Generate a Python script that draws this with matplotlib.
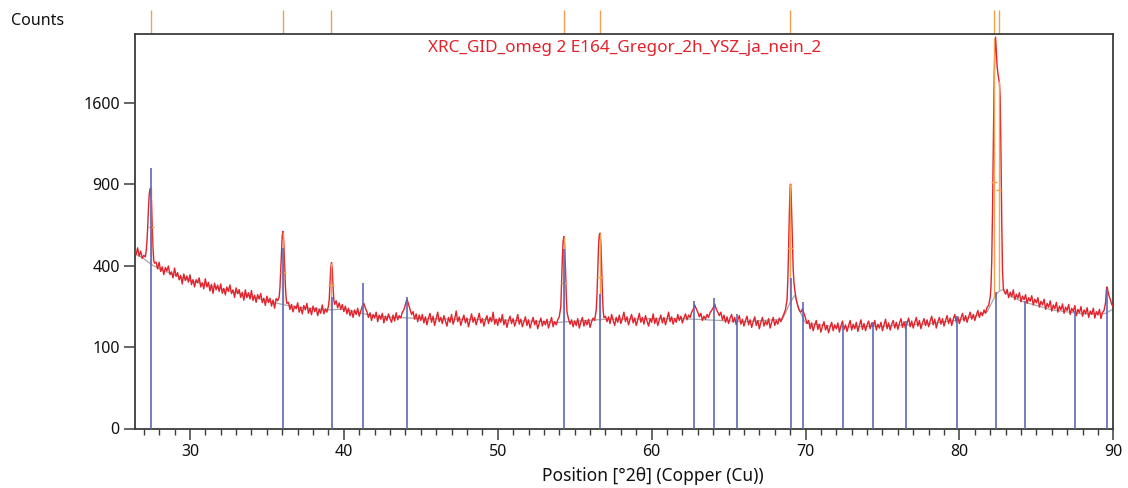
import numpy as np
import matplotlib
matplotlib.use("Agg")
import matplotlib.pyplot as plt
from matplotlib.ticker import FixedLocator, MultipleLocator
import matplotlib.transforms as mtransforms

plt.rcParams['font.family'] = ['Noto Sans', 'DejaVu Sans']

# ---------------- data ----------------
# observed scan: (2theta, counts)
obs_points = [
    (26.43, 478), (26.5, 455), (26.6, 492), (26.7, 448), (26.8, 474), (26.9, 436), (27.0, 452), (27.1, 444),
    (27.15, 470), (27.2, 520), (27.25, 600), (27.3, 720), (27.35, 820), (27.4, 865), (27.45, 870), (27.5, 780),
    (27.55, 620), (27.6, 490), (27.65, 425), (27.7, 412),
    (27.8, 417), (27.9, 384), (28.0, 417), (28.1, 372), (28.2, 394), (28.3, 357), (28.4, 391), (28.5, 374),
    (28.6, 398), (28.7, 357), (28.8, 370), (28.9, 342), (29.0, 388), (29.1, 349), (29.2, 366), (29.3, 333),
    (29.4, 353), (29.5, 315), (29.6, 360), (29.7, 330), (29.8, 351), (29.9, 323), (30.0, 356), (30.1, 312),
    (30.2, 334), (30.3, 302), (30.4, 334), (30.5, 320), (30.6, 342), (30.7, 302), (30.8, 320), (30.9, 294),
    (31.0, 338), (31.1, 302), (31.2, 322), (31.3, 285), (31.4, 313), (31.5, 275), (31.6, 318), (31.7, 290),
    (31.8, 310), (31.9, 283), (32.0, 315), (32.1, 276), (32.2, 296), (32.3, 269), (32.4, 302), (32.5, 284),
    (32.6, 311), (32.7, 274), (32.8, 290), (32.9, 259), (33.0, 298), (33.1, 274), (33.2, 291), (33.3, 259),
    (33.4, 279), (33.5, 248), (33.6, 290), (33.7, 258), (33.8, 278), (33.9, 253), (34.0, 287), (34.1, 247),
    (34.2, 268), (34.3, 240), (34.4, 270), (34.5, 253), (34.6, 275), (34.7, 239), (34.8, 256), (34.9, 228),
    (35.0, 264), (35.1, 239), (35.2, 256), (35.3, 226), (35.4, 249), (35.5, 218), (35.6, 254),
    (35.7, 246), (35.8, 262), (35.85, 300), (35.9, 380), (35.95, 480), (36.0, 565), (36.05, 585), (36.1, 520),
    (36.15, 410), (36.2, 310), (36.25, 256), (36.3, 236),
    (36.4, 240), (36.5, 214), (36.6, 232), (36.7, 205), (36.8, 226), (36.9, 216), (37.0, 238), (37.1, 204),
    (37.2, 222), (37.3, 198), (37.4, 228), (37.5, 212), (37.6, 236), (37.7, 200), (37.8, 218), (37.9, 195),
    (38.0, 226), (38.1, 206), (38.2, 220), (38.3, 192), (38.4, 214), (38.5, 200), (38.6, 230), (38.7, 198),
    (38.8, 216), (38.9, 204), (39.0, 226),
    (39.05, 250), (39.1, 320), (39.15, 390), (39.2, 415), (39.25, 380), (39.3, 300), (39.35, 250),
    (39.4, 232), (39.5, 246), (39.6, 220), (39.7, 238), (39.8, 214), (39.9, 232), (40.0, 206), (40.1, 226),
    (40.2, 198), (40.3, 218), (40.4, 192), (40.5, 210), (40.6, 186), (40.7, 212), (40.8, 196), (40.9, 218),
    (41.0, 190), (41.1, 208), (41.2, 226), (41.3, 236), (41.4, 218), (41.5, 206), (41.6, 186), (41.7, 202),
    (41.8, 176), (41.9, 196), (42.0, 184), (42.1, 204), (42.2, 172), (42.3, 194), (42.4, 180), (42.5, 200),
    (42.6, 168), (42.7, 190), (42.8, 176), (42.9, 198), (43.0, 182), (43.1, 170), (43.2, 194), (43.3, 174),
    (43.4, 202), (43.5, 178), (43.6, 192), (43.7, 184), (43.8, 204), (43.9, 212), (44.0, 232), (44.1, 252),
    (44.2, 234), (44.3, 214), (44.4, 196), (44.5, 206), (44.6, 180), (44.7, 198), (44.8, 172), (44.9, 194),
    (45.0, 176), (45.1, 196), (45.2, 168), (45.3, 188), (45.4, 162), (45.5, 184), (45.6, 200), (45.7, 170),
    (45.8, 190), (45.9, 160), (46.0, 182), (46.1, 204), (46.2, 172), (46.3, 186), (46.4, 166), (46.5, 192),
    (46.6, 174), (46.7, 158), (46.8, 186), (46.9, 170), (47.0, 196), (47.1, 164), (47.2, 180), (47.3, 208),
    (47.4, 172), (47.5, 188), (47.6, 160), (47.7, 178), (47.8, 194), (47.9, 168), (48.0, 184), (48.1, 156),
    (48.2, 176), (48.3, 198), (48.4, 170), (48.5, 186), (48.6, 162), (48.7, 180), (48.8, 200), (48.9, 168),
    (49.0, 182), (49.1, 158), (49.2, 178), (49.3, 192), (49.4, 166), (49.5, 186), (49.6, 172), (49.7, 204),
    (49.8, 164), (49.9, 180), (50.0, 160), (50.1, 184), (50.2, 170), (50.3, 196), (50.4, 162), (50.5, 178),
    (50.6, 154), (50.7, 176), (50.8, 190), (50.9, 166), (51.0, 182), (51.1, 158), (51.2, 174), (51.3, 196),
    (51.4, 164), (51.5, 180), (51.6, 156), (51.7, 172), (51.8, 188), (51.9, 160), (52.0, 178), (52.1, 152),
    (52.2, 170), (52.3, 186), (52.4, 162), (52.5, 176), (52.6, 150), (52.7, 168), (52.8, 184), (52.9, 158),
    (53.0, 174), (53.1, 162), (53.2, 180), (53.3, 152), (53.4, 170), (53.5, 186), (53.6, 156), (53.7, 172),
    (53.8, 162), (53.9, 178), (54.0, 188),
    (54.1, 225), (54.15, 320), (54.2, 440), (54.25, 530), (54.3, 555), (54.35, 505), (54.4, 395), (54.45, 275),
    (54.5, 205), (54.6, 180),
    (54.7, 164), (54.8, 178), (54.9, 156), (55.0, 174), (55.1, 160), (55.2, 182), (55.3, 152), (55.4, 170),
    (55.5, 186), (55.6, 158), (55.7, 176), (55.8, 162), (55.9, 180), (56.0, 154), (56.1, 172), (56.2, 184),
    (56.3, 176), (56.4, 212),
    (56.45, 270), (56.5, 380), (56.55, 500), (56.6, 565), (56.65, 575), (56.7, 520), (56.75, 400), (56.8, 280),
    (56.85, 210), (56.9, 185), (57.0, 190),
    (57.1, 172), (57.2, 188), (57.3, 166), (57.4, 196), (57.5, 176), (57.6, 160), (57.7, 186), (57.8, 170),
    (57.9, 194), (58.0, 166), (58.1, 182), (58.2, 204), (58.3, 172), (58.4, 188), (58.5, 162), (58.6, 180),
    (58.7, 196), (58.8, 168), (58.9, 184), (59.0, 160), (59.1, 178), (59.2, 200), (59.3, 170), (59.4, 186),
    (59.5, 164), (59.6, 192), (59.7, 174), (59.8, 158), (59.9, 182), (60.0, 170), (60.1, 198), (60.2, 166),
    (60.3, 184), (60.4, 160), (60.5, 178), (60.6, 194), (60.7, 168), (60.8, 186), (60.9, 162), (61.0, 180),
    (61.1, 204), (61.2, 172), (61.3, 188), (61.4, 164), (61.5, 182), (61.6, 170), (61.7, 196), (61.8, 176),
    (61.9, 190), (62.0, 168), (62.1, 184), (62.2, 198), (62.3, 178), (62.4, 194), (62.5, 186), (62.6, 204),
    (62.7, 214), (62.8, 230), (62.9, 216), (63.0, 204), (63.1, 188), (63.2, 200), (63.3, 176), (63.4, 190),
    (63.5, 180), (63.6, 196), (63.7, 186), (63.8, 202), (63.9, 210), (64.0, 220), (64.1, 234), (64.2, 214),
    (64.3, 204), (64.4, 192), (64.5, 204), (64.6, 178), (64.7, 194), (64.8, 170), (64.9, 188), (65.0, 166),
    (65.1, 184), (65.2, 196), (65.3, 170), (65.4, 186), (65.5, 162), (65.6, 178), (65.7, 192), (65.8, 164),
    (65.9, 180), (66.0, 158), (66.1, 176), (66.2, 190), (66.3, 162), (66.4, 178), (66.5, 154), (66.6, 172),
    (66.7, 188), (66.8, 160), (66.9, 176), (67.0, 150), (67.1, 170), (67.2, 186), (67.3, 158), (67.4, 174),
    (67.5, 162), (67.6, 182), (67.7, 152), (67.8, 170), (67.9, 186), (68.0, 160), (68.1, 176), (68.2, 164),
    (68.3, 184), (68.4, 172), (68.5, 186), (68.6, 198), (68.7, 214),
    (68.8, 250), (68.85, 330), (68.9, 480), (68.95, 700), (69.0, 880), (69.03, 900), (69.07, 820), (69.1, 700),
    (69.15, 500), (69.2, 380), (69.25, 320), (69.3, 290), (69.35, 270), (69.4, 250), (69.5, 226), (69.6, 210),
    (69.7, 204), (69.8, 216), (69.9, 200),
    (70.0, 184), (70.1, 166), (70.2, 176), (70.3, 150), (70.4, 168), (70.5, 144), (70.6, 162), (70.7, 176),
    (70.8, 148), (70.9, 164), (71.0, 140), (71.1, 158), (71.2, 172), (71.3, 146), (71.4, 160), (71.5, 138),
    (71.6, 156), (71.7, 170), (71.8, 144), (71.9, 162), (72.0, 150), (72.1, 168), (72.2, 140), (72.3, 158),
    (72.4, 174), (72.5, 148), (72.6, 162), (72.7, 142), (72.8, 160), (72.9, 176), (73.0, 146), (73.1, 164),
    (73.2, 150), (73.3, 170), (73.4, 142), (73.5, 160), (73.6, 178), (73.7, 148), (73.8, 166), (73.9, 144),
    (74.0, 162), (74.1, 174), (74.2, 150), (74.3, 168), (74.4, 156), (74.5, 176), (74.6, 146), (74.7, 164),
    (74.8, 152), (74.9, 170), (75.0, 144), (75.1, 162), (75.2, 180), (75.3, 150), (75.4, 168), (75.5, 146),
    (75.6, 164), (75.7, 176), (75.8, 152), (75.9, 170), (76.0, 148), (76.1, 166), (76.2, 182), (76.3, 154),
    (76.4, 172), (76.5, 150), (76.6, 168), (76.7, 184), (76.8, 156), (76.9, 174), (77.0, 152), (77.1, 170),
    (77.2, 186), (77.3, 158), (77.4, 176), (77.5, 150), (77.6, 168), (77.7, 182), (77.8, 160), (77.9, 178),
    (78.0, 156), (78.1, 174), (78.2, 190), (78.3, 162), (78.4, 180), (78.5, 152), (78.6, 172), (78.7, 186),
    (78.8, 164), (78.9, 182), (79.0, 158), (79.1, 176), (79.2, 192), (79.3, 166), (79.4, 184), (79.5, 160),
    (79.6, 180), (79.7, 196), (79.8, 170), (79.9, 188), (80.0, 166), (80.1, 184), (80.2, 200), (80.3, 174),
    (80.4, 192), (80.5, 170), (80.6, 188), (80.7, 204), (80.8, 180), (80.9, 196), (81.0, 176), (81.1, 194),
    (81.2, 210), (81.3, 186), (81.4, 204), (81.5, 192), (81.6, 212), (81.7, 200), (81.8, 222),
    (81.9, 228), (82.0, 260), (82.05, 300), (82.1, 420), (82.15, 700), (82.2, 1200), (82.25, 1750), (82.3, 2150),
    (82.35, 2310), (82.4, 2150), (82.45, 1980), (82.5, 1900), (82.55, 1850), (82.6, 1800), (82.65, 1650),
    (82.7, 1150), (82.75, 650), (82.8, 380), (82.85, 300), (82.9, 285),
    (83.0, 272), (83.1, 292), (83.2, 258), (83.3, 280), (83.4, 262), (83.5, 290), (83.6, 250), (83.7, 272),
    (83.8, 256), (83.9, 278), (84.0, 242), (84.1, 264), (84.2, 250), (84.3, 270), (84.4, 236), (84.5, 258),
    (84.6, 244), (84.7, 266), (84.8, 230), (84.9, 252), (85.0, 238), (85.1, 258), (85.2, 222), (85.3, 244),
    (85.4, 230), (85.5, 252), (85.6, 214), (85.7, 236), (85.8, 222), (85.9, 246), (86.0, 208), (86.1, 230),
    (86.2, 216), (86.3, 240), (86.4, 204), (86.5, 226), (86.6, 212), (86.7, 234), (86.8, 200), (86.9, 222),
    (87.0, 210), (87.1, 232), (87.2, 196), (87.3, 218), (87.4, 206), (87.5, 228), (87.6, 192), (87.7, 214),
    (87.8, 202), (87.9, 224), (88.0, 190), (88.1, 212), (88.2, 198), (88.3, 220), (88.4, 186), (88.5, 208),
    (88.6, 196), (88.7, 218), (88.8, 184), (88.9, 206), (89.0, 194), (89.1, 214), (89.2, 182), (89.3, 204),
    (89.4, 210), (89.5, 240), (89.55, 290), (89.6, 302), (89.65, 285), (89.7, 270), (89.8, 252), (89.9, 232),
    (90.0, 222),
]
obs_2theta = [p[0] for p in obs_points]
obs_counts = [p[1] for p in obs_points]

# background line (grey)
bg_2theta = [26.43, 27.0, 27.5, 28.0, 29.0, 30.0, 32.0, 34.0, 36.0, 37.0,
             39.0, 40.0, 42.0, 45.0, 50.0, 54.0, 57.0, 62.0, 66.0, 68.5,
             69.0, 69.3, 69.6, 70.0, 72.0, 75.0, 78.0, 80.0, 81.0, 81.8,
             82.2, 82.5, 82.8, 83.2, 84.0, 86.0, 88.0, 89.5, 90.0]
bg_counts = [460, 435, 405, 385, 355, 330, 295, 262, 232, 222,
             212, 215, 190, 182, 178, 170, 180, 182, 172, 180,
             238, 268, 210, 168, 155, 158, 165, 178, 190, 205,
             250, 280, 292, 268, 245, 212, 198, 200, 215]

# reference pattern sticks (blue)
ref_2theta = [27.47, 36.07, 39.21, 41.25, 44.08, 54.33, 56.65, 62.77, 64.07, 65.55,
              69.05, 69.83, 72.45, 74.40, 76.55, 79.84, 82.35, 84.26, 87.53, 89.57]
ref_counts = [1024, 491, 262, 321, 262, 485, 272, 244, 256, 197,
              341, 240, 161, 170, 173, 190, 280, 244, 207, 293]

# peak list (orange)
peak_2theta = [27.47, 36.05, 39.17, 54.31, 56.65, 69.02, 82.25, 82.60]
peak_top = [870, 585, 415, 555, 575, 900, 2300, 1820]
peak_bg = [410, 232, 212, 170, 175, 238, 255, 290]
peak_half = [614, 370, 310, 319, 346, 490, 916, 858]

title_text = "XRC_GID_omeg 2 E164_Gregor_2h_YSZ_ja_nein_2"
xlabel_text = "Position [°2θ] (Copper (Cu))"
ylabel_text = "Counts"
y_ticks = [0, 100, 400, 900, 1600]
x_ticks = [30, 40, 50, 60, 70, 80, 90]

# ---------------- figure ----------------
W, H = 1128, 488
fig = plt.figure(figsize=(W / 100, H / 100), dpi=100)
ax = fig.add_axes([135 / W, 1 - 428.5 / H, (1113.3 - 135) / W, (428.5 - 34) / H])

ax.set_yscale('function', functions=(lambda v: np.sqrt(np.clip(v, 0, None)),
                                     lambda v: np.square(v)))
ax.set_xlim(26.43, 90)
ax.set_ylim(0, 2346)

red = '#e3222b'
blue = '#5d68b8'
orange = '#f4a04e'
grey = '#a8a8a8'

ax.plot(bg_2theta, bg_counts, color=grey, lw=0.9, zorder=2)
ax.plot(obs_2theta, obs_counts, color=red, lw=1.0, zorder=3)
ax.vlines(ref_2theta, 0, ref_counts, color=blue, lw=1.2, zorder=4)

# peak markers inside the plot
ax.vlines(peak_2theta, peak_bg, peak_top, color=orange, lw=1.0, zorder=3.5)
ax.plot(peak_2theta, peak_half, linestyle='none', marker='_', markersize=5,
        markeredgewidth=1.0, color=orange, zorder=3.6)

# peak ticks above the plot
trans = mtransforms.blended_transform_factory(ax.transData, ax.transAxes)
ax.vlines(peak_2theta, 1.0, 1.0 + 24 / 394.5, color=orange, lw=1.0,
          transform=trans, clip_on=False)

# axes styling
for s in ax.spines.values():
    s.set_color('#3c3c3c')
    s.set_linewidth(1.3)
ax.yaxis.set_major_locator(FixedLocator(y_ticks))
ax.xaxis.set_major_locator(FixedLocator(x_ticks))
ax.xaxis.set_minor_locator(MultipleLocator(1))
ax.tick_params(axis='both', which='major', direction='out', color='#3c3c3c',
               labelsize=11.5, labelcolor='#111111', width=1.1)
ax.tick_params(axis='y', which='major', length=8, pad=3)
ax.tick_params(axis='x', which='major', length=8, pad=3)
ax.tick_params(axis='x', which='minor', length=4, width=1.0, color='#3c3c3c')
ax.tick_params(top=False, right=False)

ax.text(0.5, 0.984, title_text, transform=ax.transAxes, ha='center', va='top',
        color=red, fontsize=12.3)
ax.set_xlabel(xlabel_text, fontsize=12.5, color='#111111', labelpad=7)
ax.xaxis.set_label_coords((653 - 135) / (1113.3 - 135), -0.08)
ax.xaxis.label.set_verticalalignment('center')
ax.xaxis.set_label_coords((653 - 135) / (1113.3 - 135), -(476 - 428.5) / 394.5)
fig.text(38 / W, 1 - 21 / H, ylabel_text, ha='center', va='center', fontsize=11.5,
         color='#111111')

fig.savefig('out.png', dpi=100)
